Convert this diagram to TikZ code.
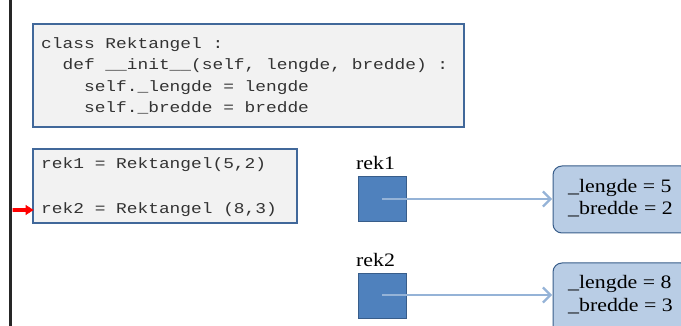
\documentclass[tikz,border=0pt]{standalone}
\usepackage{fontspec}
\setmainfont{Liberation Serif}[FakeStretch=1.15]
\setmonofont{Liberation Mono}[FakeStretch=1.19]
\usetikzlibrary{arrows.meta}
\definecolor{codefill}{HTML}{F2F2F2}
\definecolor{codeedge}{HTML}{41689A}
\definecolor{refblue}{HTML}{4F81BD}
\definecolor{refedge}{HTML}{385D8A}
\definecolor{objfill}{HTML}{B9CDE5}
\definecolor{linkblue}{HTML}{95B3D7}
\tikzset{
  codebox/.style={draw=codeedge, fill=codefill, line width=1.2pt},
  codetext/.style={font=\ttfamily\fontsize{15}{21}\selectfont, anchor=base west, inner sep=0pt, text=black!80},
  refbox/.style={draw=refedge, fill=refblue, line width=1pt},
  objbox/.style={draw=refedge, fill=objfill, line width=1pt, rounded corners=9pt},
  serif/.style={font=\fontsize{19}{22}\selectfont, anchor=base west, inner sep=0pt, text=black},
  link/.style={draw=linkblue, line width=2.6pt, -{Straight Barb[length=7.5pt,width=15pt,line width=2.2pt]}},
}
\begin{document}
\begin{tikzpicture}[x=1pt,y=-1pt]
\useasboundingbox (0,0) rectangle (681,326);
% left margin rule
\fill[black!85] (9,0) rectangle (12,326);
% class definition
\draw[codebox] (33,24) rectangle (464,127);
\node[codetext] (c1) at (41,49) {class Rektangel :};
\node[codetext] (c2) at (41,70) {\ \ def \_\_init\_\_(self, lengde, bredde) :};
\node[codetext] (c3) at (41,92) {\ \ \ \ self.\_lengde = lengde};
\node[codetext] (c4) at (41,113) {\ \ \ \ self.\_bredde = bredde};
% object creation
\draw[codebox] (33,149) rectangle (297,223);
\node[codetext] (s1) at (41,169) {rek1 = Rektangel(5,2)};
\node[codetext] (s2) at (41,214) {rek2 = Rektangel (8,3)};
% current-line marker
\draw[red, fill=red, line width=0.6pt] (13,208.5) -- (26,208.5) -- (26,205.5) -- (33,210) -- (26,214.5) -- (26,211.5) -- (13,211.5) -- cycle;
% references
\node[serif] (l1) at (356,170) {rek1};
\draw[refbox] (358,177) rectangle (406,222);
\coordinate (r1) at (382,199);
\node[serif] (l2) at (356,266) {rek2};
\draw[refbox] (358,274) rectangle (406,318);
\coordinate (r2) at (382,295);
% objects
\draw[objbox] (553,166) rectangle (690,233);
\coordinate (o1) at (552,199);
\node[serif] (o1a) at (568,193) {\_lengde = 5};
\node[serif] (o1b) at (568,215) {\_bredde = 2};
\draw[objbox] (553,263) rectangle (690,335);
\coordinate (o2) at (552,295);
\node[serif] (o2a) at (568,289) {\_lengde = 8};
\node[serif] (o2b) at (568,312) {\_bredde = 3};
% links
\draw[link] (r1) -- (o1);
\draw[link] (r2) -- (o2);
\end{tikzpicture}
\end{document}
